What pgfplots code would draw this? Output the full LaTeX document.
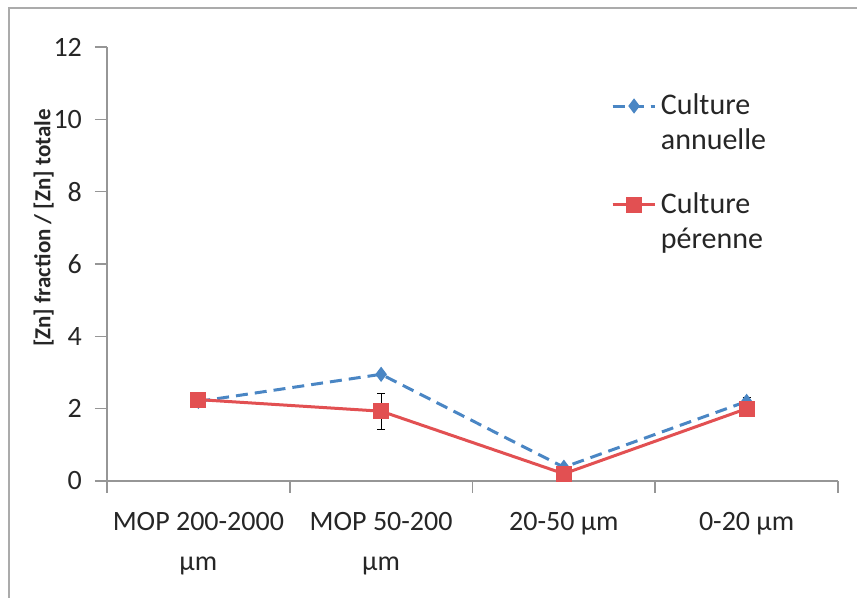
\documentclass[border=0pt]{standalone}
\usepackage{fontspec}
\setmainfont{Carlito}
\usepackage{pgfplots}
\pgfplotsset{compat=1.18}

\definecolor{annblue}{RGB}{74,134,196}
\definecolor{perred}{RGB}{226,80,82}
\definecolor{axgray}{RGB}{150,150,150}

\begin{document}
\begin{tikzpicture}
    \useasboundingbox (-53.5pt,-58.5pt) rectangle (375pt,240.5pt);
    \draw[axgray!80, line width=0.9pt] (-49pt,-80pt) -- (-49pt,236.5pt) -- (400pt,236.5pt);
    \begin{axis}[
        at={(0,0)}, anchor=south west,
        scale only axis,
        width=365.5pt, height=217pt,
        xmin=-0.5, xmax=3.5,
        ymin=0, ymax=12,
        ytick={0,2,...,12},
        xtick={-0.5,0.5,1.5,2.5,3.5},
        xticklabels={},
        extra x ticks={0,1,2,3},
        extra x tick labels={{MOP 200-2000\\µm},{MOP 50-200\\µm},{20-50 µm},{0-20 µm}},
        extra x tick style={major tick length=0pt,
            xticklabel style={align=center, yshift=-12pt,
                font=\fontsize{14}{20}\selectfont}},
        major tick length=6pt,
        axis x line*=bottom,
        axis y line*=left,
        axis line style={draw=axgray, line width=0.8pt},
        tick style={draw=axgray, line width=0.8pt},
        tick align=outside,
        tick pos=left,
        /pgf/number format/assume math mode=true,
        tick label style={font=\fontsize{14}{16}\selectfont, text=black!85},
        yticklabel style={xshift=-3pt},
        ylabel={[Zn] fraction / [Zn] totale},
        ylabel style={font=\fontsize{11.5}{13}\selectfont\bfseries, text=black!85,
            at={(ticklabel cs:0.583)}, yshift=-7pt},
        legend style={at={(0.681,0.912)}, anchor=north west, draw=none, fill=none,
            font=\fontsize{15}{17.5}\selectfont, row sep=16pt, text=black!85,
            nodes={align=left, anchor=west}},
        legend cell align=left,
        legend image code/.code={
            \draw[#1] (0cm,8.5pt) -- (0.75cm,8.5pt);
            \draw[#1, mark repeat=2, mark phase=2] plot coordinates {(0cm,8.5pt) (0.375cm,8.5pt) (0.75cm,8.5pt)};
        },
    ]
        \addplot[color=annblue, line width=1.5pt, dash pattern=on 6pt off 3.5pt,
            mark=diamond*, mark size=2.6pt, mark options={solid, fill=annblue},
            error bars/.cd, y dir=both, y explicit,
            error bar style={black, line width=0.6pt, solid},
            error mark options={rotate=90, mark size=2pt, black, solid}]
            coordinates {
                (0,2.2) +- (0,0.1)
                (1,2.95) +- (0,0.05)
                (2,0.38) +- (0,0.05)
                (3,2.2) +- (0,0.1)
            };
        \addlegendentry{Culture\\annuelle}
        \addplot[color=perred, line width=1.5pt,
            mark=square*, mark size=3.2pt, mark options={solid, fill=perred},
            error bars/.cd, y dir=both, y explicit,
            error bar style={black, line width=0.6pt, solid},
            error mark options={rotate=90, mark size=2pt, black, solid}]
            coordinates {
                (0,2.25) +- (0,0.15)
                (1,1.93) +- (0,0.5)
                (2,0.2) +- (0,0.05)
                (3,2.0) +- (0,0.22)
            };
        \addlegendentry{Culture\\pérenne}
    \end{axis}
\end{tikzpicture}
\end{document}
